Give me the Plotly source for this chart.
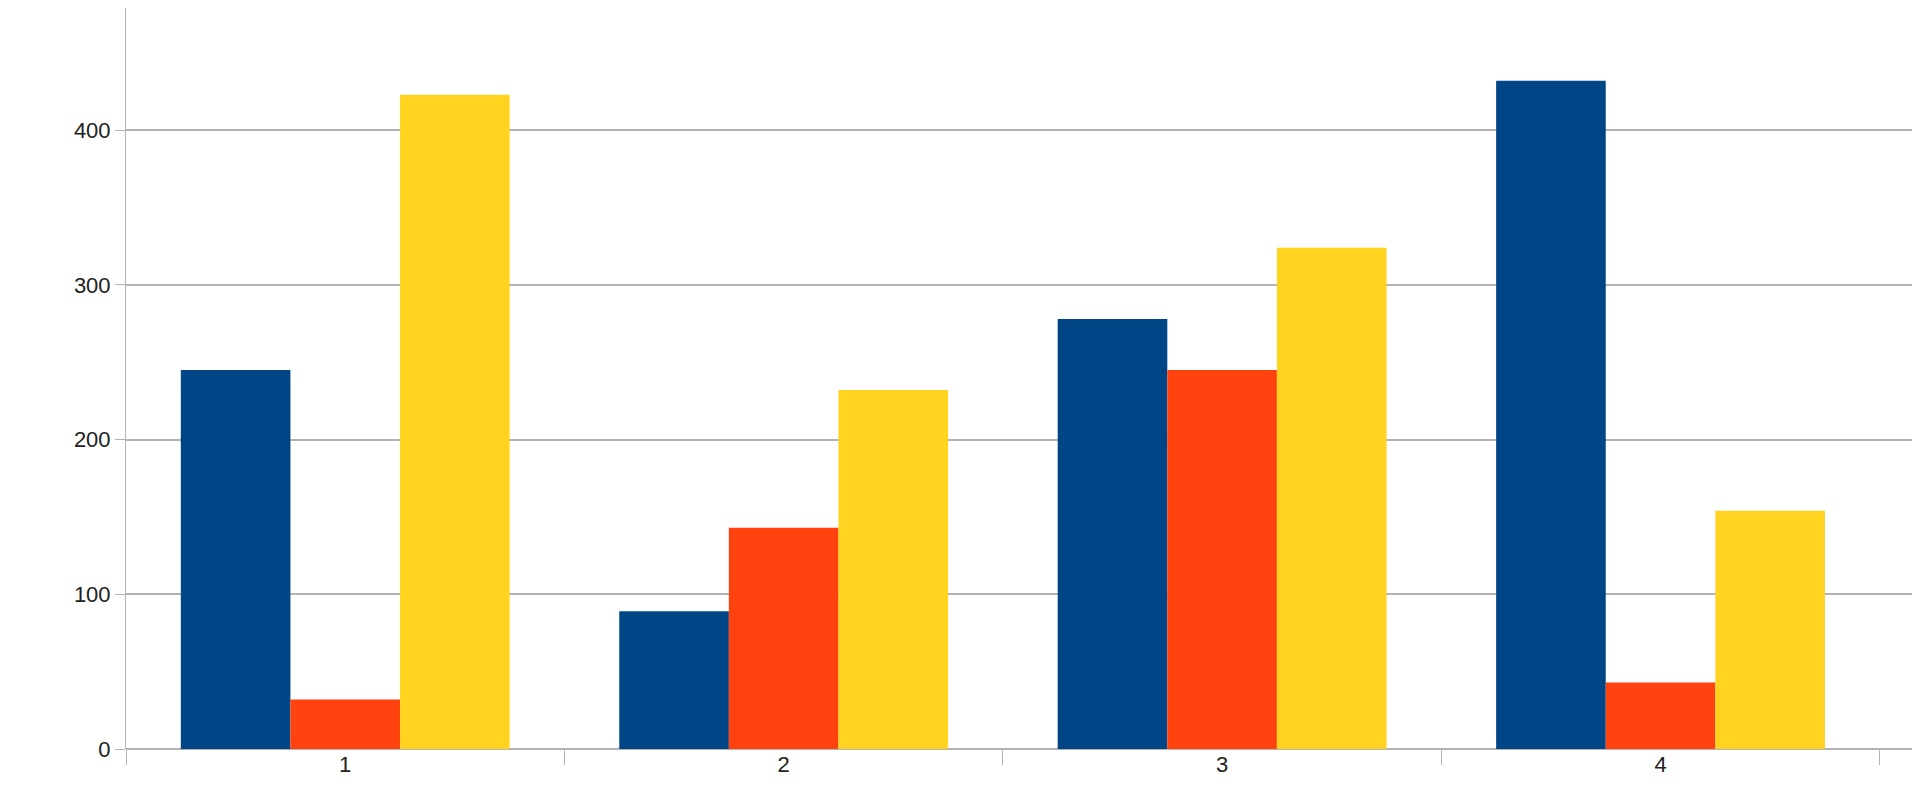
import plotly.graph_objects as go

categories = ["1", "2", "3", "4"]
series_a = [245, 89, 278, 432]
series_b = [32, 143, 245, 43]
series_c = [423, 232, 324, 154]
colors = ["#004586", "#ff420e", "#ffd320"]

fig = go.Figure()
for vals, col, name in zip([series_a, series_b, series_c], colors, ["A", "B", "C"]):
    fig.add_trace(go.Bar(x=categories, y=vals, name=name, marker=dict(color=col, line=dict(width=0))))

fig.update_layout(
    width=1920, height=810, barmode="group", bargap=0.25, bargroupgap=0,
    showlegend=False, plot_bgcolor="white", paper_bgcolor="white",
    margin=dict(l=118, r=0, t=0, b=69),
    font=dict(family="Liberation Sans", size=22, color="#222"),
)
fig.update_xaxes(type="category", range=[-0.5, 3.61], tickson="boundaries", ticks="outside",
                 ticklen=15, tickcolor="#b3b3b3", showgrid=False, showline=False, zeroline=False)
fig.update_yaxes(range=[0, 479], tickvals=[0, 100, 200, 300, 400], showgrid=True, gridcolor="#b3b3b3",
                 gridwidth=1.5, ticks="outside", ticklen=10, tickcolor="#b3b3b3",
                 showline=True, linecolor="#b3b3b3", zeroline=True, zerolinecolor="#b3b3b3", zerolinewidth=1.5)
fig.write_html("out.html")
